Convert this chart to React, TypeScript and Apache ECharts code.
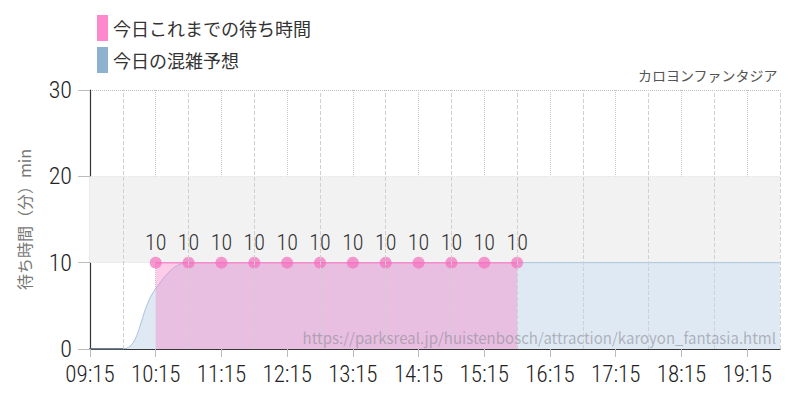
import React, { useEffect, useRef } from "react";
import * as echarts from "echarts";

const START = "09:15";
const yTicks = [0, 10, 20, 30];
const actualTimes = ["10:15", "10:45", "11:15", "11:45", "12:15", "12:45", "13:15", "13:45", "14:15", "14:45", "15:15", "15:45"];
const actualValues = [10, 10, 10, 10, 10, 10, 10, 10, 10, 10, 10, 10];
const forecastTimes = ["09:15", "09:45", "10:15", "10:45", "11:15", "11:45", "12:15", "12:45", "13:15", "13:45", "14:15", "14:45", "15:15", "15:45", "16:15", "16:45", "17:15", "17:45", "18:15", "18:45", "19:15", "19:45"];
const forecastValues = [0, 0, 7, 10, 10, 10, 10, 10, 10, 10, 10, 10, 10, 10, 10, 10, 10, 10, 10, 10, 10, 10];
const halfHourLines = ["09:45", "10:45", "11:45", "12:45", "13:45", "14:45", "15:45", "16:45", "17:45", "18:45", "19:45"];
const labelTicks = ["09:15", "10:15", "11:15", "12:15", "13:15", "14:15", "15:15", "16:15", "17:15", "18:15", "19:15"];
const END = "19:45";

const legendActual = "今日これまでの待ち時間";
const legendForecast = "今日の混雑予想";
const titleText = "カロヨンファンタジア";
const yName = "待ち時間（分）min";
const watermark = "https://parksreal.jp/huistenbosch/attraction/karoyon_fantasia.html";

const toMin = (t: string) => {
  const [h, m] = t.split(":").map(Number);
  return h * 60 + m;
};
const off = (t: string) => toMin(t) - toMin(START);
const fmt = (v: number) => {
  const t = toMin(START) + v;
  const h = Math.floor(t / 60);
  const m = t % 60;
  return (h < 10 ? "0" : "") + h + ":" + (m < 10 ? "0" : "") + m;
};

const NUM_FONT = '"Roboto Condensed", Roboto, sans-serif;font-stretch:75%';
const JP_FONT = '"Noto Sans CJK JP", "Noto Sans", sans-serif';

export default function App() {
  const ref = useRef<HTMLDivElement>(null);
  useEffect(() => {
    if (!ref.current) return;
    const chart = echarts.init(ref.current, null, { renderer: "svg" });
    const maxX = off(END);
    chart.setOption({
      animation: false,
      backgroundColor: "#ffffff",
      grid: { left: 90, right: 20, top: 90, bottom: 51, containLabel: false },
      legend: {
        orient: "vertical",
        left: 92,
        top: 10,
        itemWidth: 11,
        itemHeight: 26,
        itemGap: 6,
        textStyle: { fontSize: 18, color: "#333", fontFamily: JP_FONT },
        data: [
          { name: legendActual, icon: "rect", itemStyle: { color: "#ff88cc" } },
          { name: legendForecast, icon: "rect", itemStyle: { color: "#8fb1d0" } },
        ],
      },
      graphic: [
        {
          type: "text",
          right: 22,
          top: 68,
          style: { text: titleText, fontSize: 14, fill: "#555", fontFamily: JP_FONT },
        },
        {
          type: "text",
          right: 24,
          top: 330,
          z: 100,
          style: { text: watermark, fontSize: 15, fill: "rgba(140,140,150,0.6)", fontFamily: JP_FONT },
        },
      ],
      xAxis: {
        type: "value",
        min: 0,
        max: maxX,
        interval: 60,
        axisLine: { show: true, lineStyle: { color: "#000", width: 1.5 } },
        axisTick: { show: true, length: 8, lineStyle: { color: "#bbb" }, customValues: labelTicks.map(off) },
        axisLabel: {
          margin: 20,
          fontSize: 23,
          fontWeight: 300,
          color: "#222",
          fontFamily: NUM_FONT,
          customValues: labelTicks.map(off),
          formatter: (v: number) => (v >= maxX ? "" : fmt(v)),
        },
        splitLine: { show: true, lineStyle: { color: "#c8c8c8", type: "dotted" } },
      },
      yAxis: {
        type: "value",
        min: yTicks[0],
        max: yTicks[yTicks.length - 1],
        interval: 10,
        name: yName,
        nameLocation: "middle",
        nameGap: 58,
        nameTextStyle: { fontSize: 16, color: "#777", fontFamily: JP_FONT },
        axisLine: { show: true, lineStyle: { color: "#333", width: 1.2 } },
        axisTick: { show: true, length: 12, lineStyle: { color: "#bbb" } },
        axisLabel: { margin: 18, fontSize: 24, fontWeight: 300, color: "#222", fontFamily: NUM_FONT },
        splitLine: { show: true, lineStyle: { color: "#bbb", type: "dotted" } },
      },
      series: [
        {
          name: legendForecast,
          type: "line",
          smooth: 0.4,
          symbol: "none",
          z: 2,
          data: forecastTimes.map((t, i) => [off(t), forecastValues[i]]),
          lineStyle: { color: "#a9c3dc", width: 1 },
          areaStyle: { color: "#dfe9f3", opacity: 1 },
          itemStyle: { color: "#8fb1d0" },
          markArea: {
            silent: true,
            itemStyle: { color: "#f2f2f2" },
            data: [[{ yAxis: 10 }, { yAxis: 20 }]],
          },
          markLine: {
            silent: true,
            symbol: ["none", "none"],
            label: { show: false },
            lineStyle: { color: "#d0d0d0", type: "dashed", width: 1 },
            data: halfHourLines.map((t) => ({ xAxis: off(t) })),
          },
        },
        {
          name: legendActual,
          type: "line",
          z: 3,
          symbol: "circle",
          symbolSize: 12,
          data: actualTimes.map((t, i) => [off(t), actualValues[i]]),
          lineStyle: { color: "#f58ccb", width: 1.5 },
          itemStyle: { color: "rgba(245,110,190,0.7)" },
          areaStyle: { color: "rgba(246,120,196,0.38)", opacity: 1 },
          label: {
            show: true,
            position: "top",
            distance: 8,
            fontSize: 22,
            fontWeight: 300,
            color: "#333",
            fontFamily: NUM_FONT,
          },
        },
      ],
    });
    return () => chart.dispose();
  }, []);
  return <div ref={ref} style={{ position: "absolute", left: 0, top: 0, width: 800, height: 400 }} />;
}
